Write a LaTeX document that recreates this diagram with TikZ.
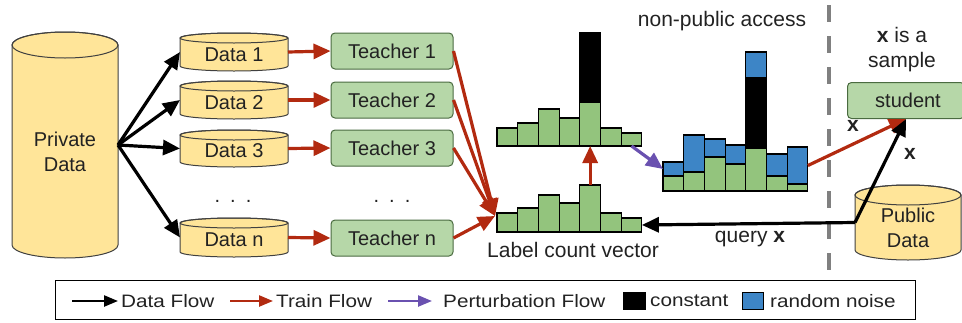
\documentclass[tikz,border=0pt]{standalone}
\usepackage{fontspec}
\setmainfont{Liberation Sans}
\newfontfamily\legendfont[FakeStretch=1.15]{Liberation Sans}
\usetikzlibrary{arrows.meta,fit,calc}
\definecolor{cylfill}{HTML}{FFE599}
\definecolor{cylline}{HTML}{404040}
\definecolor{boxfill}{HTML}{B6D7A8}
\definecolor{boxline}{HTML}{4A6B40}
\definecolor{histgreen}{HTML}{93C47D}
\definecolor{noiseblue}{HTML}{3D85C6}
\definecolor{trainred}{HTML}{B22A10}
\definecolor{perturbpurple}{HTML}{6A51B0}
\definecolor{dashgray}{HTML}{808080}
\definecolor{txt}{HTML}{222222}

\newcommand\mycyl[7]{%
  \path[fill=cylfill, draw=cylline, line width=1pt] (#2,{#3+#6}) -- (#2,{#5-#6})
    arc[start angle=180, end angle=0, x radius={(#4-#2)/2}, y radius=#6]
    -- (#4,{#3+#6})
    arc[start angle=0, end angle=-180, x radius={(#4-#2)/2}, y radius=#6] -- cycle;
  \draw[cylline, line width=1pt] ({(#2+#4)/2},{#3+#6}) ellipse[x radius={(#4-#2)/2}, y radius=#6];
  \node[fit={(#2,#3) (#4,#5)}, inner sep=0pt, outer sep=0pt] (#1) {};
  \node[boxtext, align=center] (#1-t) at ({(#2+#4)/2},{(#3+#6+#5)/2}) {#7};
}

\begin{document}
\begin{tikzpicture}[x=1pt,y=-1pt,
  every node/.style={text=txt},
  lbl/.style={font=\fontsize{21}{25}\selectfont},
  boxtext/.style={font=\fontsize{20}{25}\selectfont},
  legtext/.style={font=\legendfont\fontsize{18}{20}\selectfont, inner sep=0pt},
  teacherbox/.style={draw=boxline, fill=boxfill, rounded corners=4pt, line width=1pt,
    minimum width=122pt, minimum height=36pt, inner sep=0pt, boxtext},
  gbar/.style={draw=black, fill=histgreen, line width=1.1pt, minimum width=20.7pt,
    inner sep=0pt, outer sep=0pt, anchor=south west},
  cbar/.style={gbar, fill=black},
  nbar/.style={gbar, fill=noiseblue},
  flow/.style={line width=3.2pt, -{Triangle[length=17pt,width=15pt]}},
  dataflow/.style={flow, draw=black},
  trainflow/.style={flow, draw=trainred},
  perturbflow/.style={flow, draw=perturbpurple},
  legflow/.style={line width=2.4pt, -{Triangle[length=14pt,width=11pt]}},
]
\useasboundingbox (0,0) rectangle (962,322);

% cylinders
\mycyl{pd}{12}{32}{118}{258}{13}{Private\\Data}
\mycyl{d1}{180}{33}{288}{71}{5}{Data 1}
\mycyl{d2}{180}{81}{288}{119}{5}{Data 2}
\mycyl{d3}{180}{130}{288}{167}{5}{Data 3}
\mycyl{dn}{180}{218}{288}{257}{5}{Data n}
\mycyl{pub}{855}{185}{961}{260}{10}{Public\\Data}

\node[boxtext, anchor=base] (dots1) at (233,202) {.\,\,\,.\,\,\,.};
\node[boxtext, anchor=base] (dots2) at (392,202) {.\,\,\,.\,\,\,.};

% teachers
\node[teacherbox] (t1) at (392,51) {Teacher 1};
\node[teacherbox] (t2) at (392,100) {Teacher 2};
\node[teacherbox] (t3) at (392,148) {Teacher 3};
\node[teacherbox] (tn) at (392,238) {Teacher n};

% student
\node[teacherbox, minimum width=117pt, anchor=north west] (st) at (847,82) {};
\node[boxtext] (stt) at (908,100) {student};

% bottom histogram (label count vector)
\foreach \i/\h in {1/19,2/24,3/37,4/29,5/47,6/19,7/14}{
  \node[gbar, minimum height=\h pt] (hb-\i) at ({497+(\i-1)*20.7},232) {};
}
% top histogram
\foreach \i/\h in {1/18,2/23,3/37,4/28,5/44,6/18,7/13}{
  \node[gbar, minimum height=\h pt] (ht-\i) at ({497+(\i-1)*20.7},146) {};
}
\node[cbar, minimum height=69pt] (ht-5c) at (ht-5.north west) {};

% right (perturbed) histogram
\foreach \i/\g/\n in {1/176/162,2/172/135,3/157/139,4/164/145,6/176/154,7/184/147}{
  \node[gbar, minimum height={(191-\g)*1pt}] (hr-\i) at ({663+(\i-1)*20.7},191) {};
  \node[nbar, minimum height={(\g-\n)*1pt}] (hr-\i-n) at (hr-\i.north west) {};
}
\node[gbar, minimum height=43pt] (hr-5) at ({663+4*20.7},191) {};
\node[cbar, minimum height=70pt] (hr-5c) at (hr-5.north west) {};
\node[nbar, minimum height=26pt] (hr-5-n) at (hr-5c.north west) {};

% texts
\node[lbl] (npa) at (722,21) {non-public access};
\node[lbl] (lcv) at (573,250) {Label count vector};
\node[lbl, align=center] (xnote) at (902,50) {\textbf{x} is a\\sample};
\node[lbl] (qx) at (750,239) {query \textbf{x}};
\node[lbl] (xa) at (853,126) {\textbf{x}};
\node[lbl] (xb) at (910,154) {\textbf{x}};

% dashed separator
\draw[dashgray, line width=4pt, dash pattern=on 17pt off 14pt] (829,5) -- (829,272);

% data flow from private data
\coordinate (pdo) at (118,145);
\foreach \d in {d1,d2,d3,dn}{ \draw[dataflow] (pdo) -- (\d.west); }

% train flow data -> teacher
\draw[trainflow] (d1.east) -- (t1.west);
\draw[trainflow] (d2.east) -- (t2.west);
\draw[trainflow] (d3.east) -- (t3.west);
\draw[trainflow] (dn.east) -- (tn.west);

% teachers -> label count vector
\coordinate (conv) at (495,216);
\foreach \t in {t1,t2,t3,tn}{ \draw[trainflow] (\t.east) -- (conv); }

% aggregation -> constant
\draw[trainflow] (hb-5.north) -- (ht-5.south);

% perturbation
\draw[perturbflow] (ht-7.south) -- (hr-1-n.west);

% to student
\draw[trainflow] (hr-7-n.east) -- (st.south);
\draw[dataflow] (pub.west) -- (st.south);
\draw[dataflow] (pub.west) -- (hb-7.east);

% legend
\node[draw=black, line width=1.2pt, minimum width=860pt, minimum height=39pt, inner sep=0pt, anchor=north west] (legend) at (55,280) {};
\coordinate (la1) at (72,301); \coordinate (la2) at (118,301);
\draw[legflow, draw=black] (la1) -- (la2);
\node[legtext, anchor=west] (lt1) at (121,301) {Data Flow};
\coordinate (lb1) at (230,301); \coordinate (lb2) at (273,301);
\draw[legflow, draw=trainred] (lb1) -- (lb2);
\node[legtext, anchor=west] (lt2) at (276,301) {Train Flow};
\coordinate (lc1) at (388,301); \coordinate (lc2) at (432,301);
\draw[legflow, draw=perturbpurple] (lc1) -- (lc2);
\node[legtext, anchor=west] (lt3) at (443,301) {Perturbation Flow};
\node[draw=black, fill=black, minimum width=22pt, minimum height=17pt, inner sep=0pt, anchor=west] (lsq1) at (623,301) {};
\node[legtext, anchor=west] (lt4) at (650,301) {constant};
\node[draw=black, fill=noiseblue, minimum width=21pt, minimum height=17pt, inner sep=0pt, anchor=west] (lsq2) at (742,301) {};
\node[legtext, anchor=west] (lt5) at (770,301) {random noise};
\end{tikzpicture}
\end{document}
